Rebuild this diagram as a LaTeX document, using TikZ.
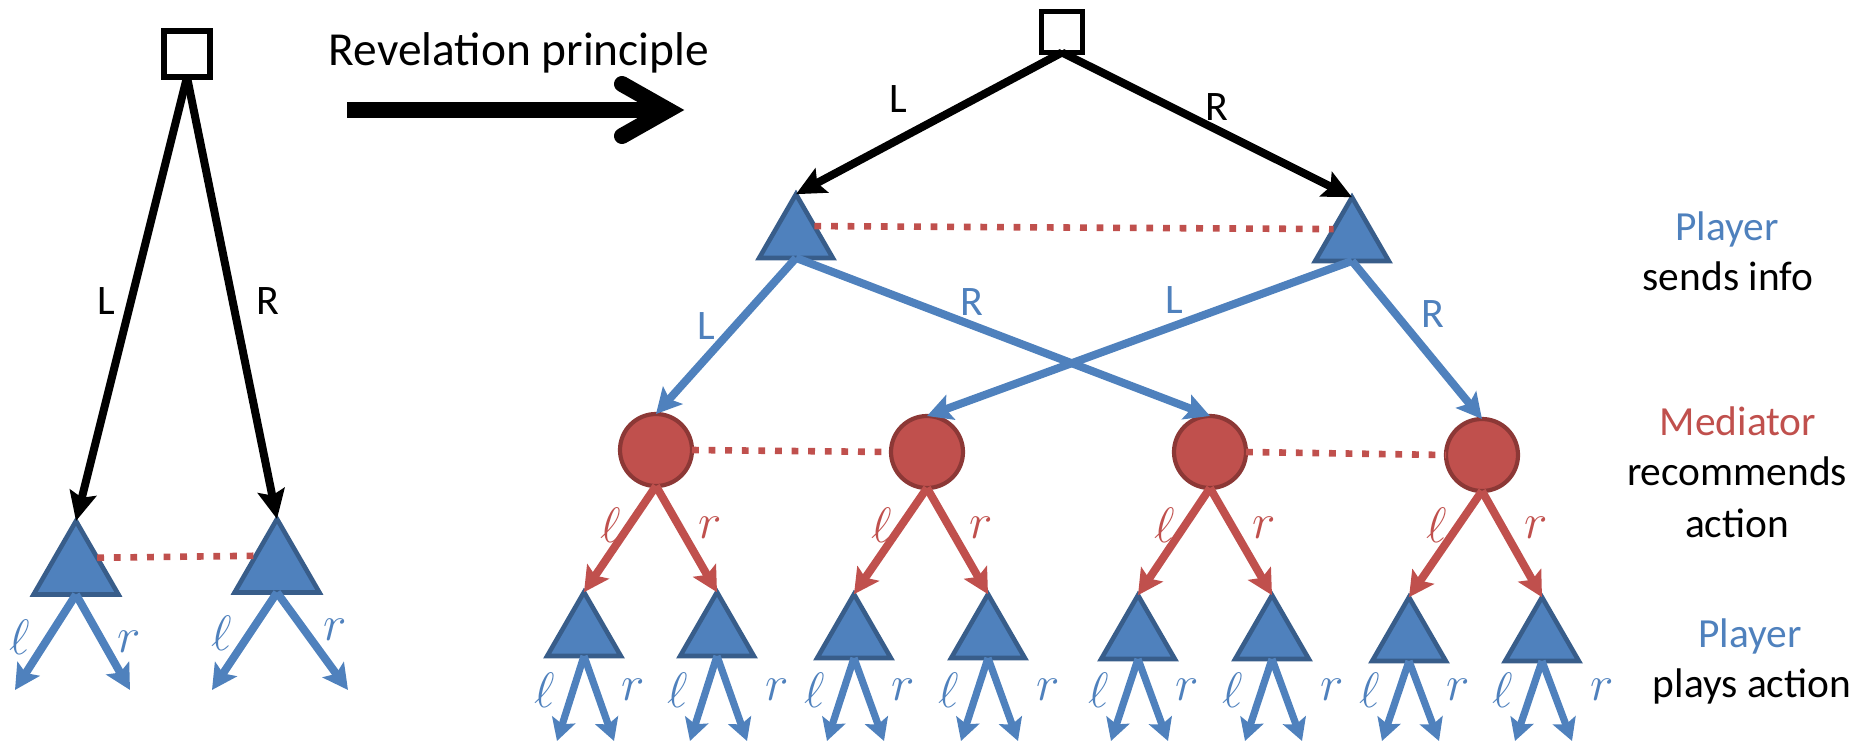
\documentclass[tikz,border=0pt]{standalone}
\usepackage{fontspec}
\setmainfont{Carlito}
\usetikzlibrary{arrows.meta,shapes.geometric}
\definecolor{pblue}{HTML}{4F81BD}
\definecolor{pbluedark}{HTML}{385D8A}
\definecolor{mred}{HTML}{C0504D}
\definecolor{mreddark}{HTML}{8C3836}
\tikzset{
  chance/.style={rectangle, draw=black, fill=white, line width=2.6pt, inner sep=0pt, outer sep=0pt},
  ptri/.style={regular polygon, regular polygon sides=3, fill=pblue, draw=pbluedark, line width=2.3pt, inner sep=0pt, outer sep=0pt},
  bigtri/.style={ptri, minimum size=49pt},
  smalltri/.style={ptri, minimum size=42.5pt},
  medc/.style={circle, fill=mred, draw=mreddark, line width=2.1pt, minimum size=36pt, inner sep=0pt, outer sep=0pt},
  karr/.style={draw=black, line width=4pt, -{Stealth[length=14.5pt,width=13.5pt,inset=2.5pt]}},
  barr/.style={draw=pblue, line width=4pt, -{Stealth[length=12.5pt,width=13pt,inset=2.5pt]}},
  rarr/.style={draw=mred, line width=4pt, -{Stealth[length=12.5pt,width=13pt,inset=2.5pt]}},
  leaf/.style={draw=pblue, line width=3.6pt, -{Stealth[length=11pt,width=12pt,inset=2.2pt]}},
  infoset/.style={draw=mred, line width=3.3pt, dash pattern=on 3.4pt off 4.9pt},
  caption/.style={font=\fontsize{20.7}{25}\selectfont, inner sep=0pt, anchor=base},
  movelbl/.style={font=\fontsize{21}{25}\selectfont, inner sep=0pt},
  actlbl/.style={font=\fontsize{25}{29}\selectfont, inner sep=0pt},
  bigact/.style={font=\fontsize{27}{31}\selectfont, inner sep=0pt},
}
\begin{document}
\begin{tikzpicture}[x=0.5pt, y=-0.5pt]
\useasboundingbox (0,0) rectangle (1860,745);

% ---- original game: chance, two player nodes in one information set
\node[chance, minimum size=23pt] (s0) at (187,54) {};
\node[bigtri] (tA) at (76,570) {};
\node[bigtri] (tB) at (277,568) {};
\draw[karr] (s0.south) -- (tA.corner 1);
\draw[karr] (s0.south) -- (tB.corner 1);
\node[movelbl] (s0L) at (106,301) {L};
\node[movelbl] (s0R) at (268,301) {R};
\draw[infoset] (tA.side 3) -- (tB.side 1);

\coordinate (tA-l) at (15,690);
\coordinate (tA-r) at (130,690);
\coordinate (tB-l) at (212,690);
\coordinate (tB-r) at (348,690);
\draw[barr] (tA.south) -- (tA-l);
\draw[barr] (tA.south) -- (tA-r);
\draw[barr] (tB.south) -- (tB-l);
\draw[barr] (tB.south) -- (tB-r);
\node[bigact, text=pblue] (tAlab-l) at (20,637) {$\ell$};
\node[bigact, text=pblue] (tAlab-r) at (129,642) {$r$};
\node[bigact, text=pblue] (tBlab-l) at (222,633) {$\ell$};
\node[bigact, text=pblue] (tBlab-r) at (335,630) {$r$};

% ---- transformation arrow
\node[font=\fontsize{23.7}{28}\selectfont, inner sep=0pt, anchor=base] (rev) at (519,65) {Revelation principle};
\coordinate (ra) at (347,110);
\coordinate (rt) at (668,110);
\coordinate (ru) at (622,84);
\coordinate (rd) at (622,136);
\draw[line width=8pt] (ra) -- (rt);
\draw[line width=8pt, line cap=round, line join=miter] (ru) -- (rt) -- (rd);

% ---- mediated game
\node[chance, minimum size=20.5pt] (s1) at (1062,32) {};
\node[smalltri] (tL) at (796,236.7) {};
\node[smalltri] (tR) at (1352,239.7) {};
\draw[karr] (s1.south) -- (tL.corner 1);
\draw[karr] (s1.south) -- (tR.corner 1);
\node[movelbl] (s1L) at (898,99) {L};
\node[movelbl] (s1R) at (1217,107) {R};
\draw[infoset] (tL.side 3) -- (tR.side 1);

% mediator nodes
\node[medc] (c1) at (656,450) {};
\node[medc] (c2) at (927,452) {};
\node[medc] (c3) at (1210,452) {};
\node[medc] (c4) at (1482,455) {};
\draw[barr] (tL.south) -- (c1.north);
\draw[barr] (tL.south) -- (c3.north);
\draw[barr] (tR.south) -- (c2.north);
\draw[barr] (tR.south) -- (c4.north);
\node[movelbl, text=pblue] (tLL) at (706,326) {L};
\node[movelbl, text=pblue] (tLR) at (972,302) {R};
\node[movelbl, text=pblue] (tRL) at (1174,300) {L};
\node[movelbl, text=pblue] (tRR) at (1433,314) {R};
\draw[infoset] (c1.east) -- (c2.west);
\draw[infoset] (c3.east) -- (c4.west);

% recommendation labels
\foreach \c/\x in {c1/656, c2/927, c3/1210, c4/1482} {
  \node[actlbl, text=mred] (\c-lab-l) at ({\x-45},525) {$\ell$};
  \node[actlbl, text=mred] (\c-lab-r) at ({\x+54},528) {$r$};
}

% player nodes after a recommendation, with their actions
\foreach \i/\x/\y/\c/\rx in {1/584/588/c1/49, 2/717/588/c1/60, 3/854/590/c2/49, 4/988/590/c2/60,
                             5/1138/591/c3/49, 6/1272/591/c3/60, 7/1409/593/c4/49, 8/1542/593/c4/60} {
  \node[smalltri] (b\i) at (\x,{\y+46.7}) {};
  \draw[rarr] (\c.south) -- (b\i.corner 1);
  \coordinate (b\i-l) at ({\x-27},741);
  \coordinate (b\i-r) at ({\x+30},741);
  \draw[leaf] (b\i.south) -- (b\i-l);
  \draw[leaf] (b\i.south) -- (b\i-r);
  \node[actlbl, text=pblue] (b\i-lab-l) at ({\x-39},690) {$\ell$};
  \node[actlbl, text=pblue] (b\i-lab-r) at ({\x+\rx},690) {$r$};
}

% ---- row captions
\node[caption, text=pblue] (cap1a) at (1727,240) {Player};
\node[caption] (cap1b) at (1728,290) {sends info};
\node[caption, text=mred] (cap2a) at (1738,435) {Mediator};
\node[caption] (cap2b) at (1737,485) {recommends};
\node[caption] (cap2c) at (1737,537) {action};
\node[caption, text=pblue] (cap3a) at (1750,647) {Player};
\node[caption] (cap3b) at (1752,697) {plays action};
\end{tikzpicture}
\end{document}
